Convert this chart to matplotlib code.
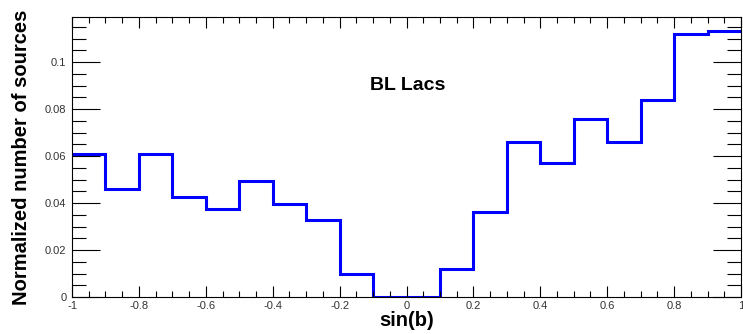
import numpy as np
from matplotlib import pyplot as plt
from matplotlib.ticker import MultipleLocator, FuncFormatter

# Histogram of sin(b), 20 bins from -1 to 1
bin_edges = np.round(np.arange(-1.0, 1.0001, 0.1), 2)
bl_lacs = [0.0610, 0.0461, 0.0610, 0.0424, 0.0376, 0.0494, 0.0396, 0.0328, 0.0099, 0.0,
           0.0, 0.0121, 0.0363, 0.0658, 0.0572, 0.0759, 0.0658, 0.0838, 0.1121, 0.1132]

plt.rcParams['font.family'] = ['Liberation Sans', 'DejaVu Sans']

fig = plt.figure(figsize=(7.43, 3.34), dpi=100)
ax = fig.add_axes([72 / 743, 1 - 297 / 334, 669 / 743, 280 / 334])

ax.stairs(bl_lacs, bin_edges, baseline=None, color='#0000ff', linewidth=2.2)

ax.set_xlim(-1, 1)
ax.set_ylim(0, 0.1192)

ax.xaxis.set_major_locator(MultipleLocator(0.2))
ax.xaxis.set_minor_locator(MultipleLocator(0.05))
ax.yaxis.set_major_locator(MultipleLocator(0.02))
ax.yaxis.set_minor_locator(MultipleLocator(0.005))
fmt = FuncFormatter(lambda v, p: '%g' % round(v, 3))
ax.xaxis.set_major_formatter(fmt)
ax.yaxis.set_major_formatter(fmt)

ax.tick_params(axis='both', which='both', direction='in', top=True, right=True,
               labelsize=8, colors='black', labelcolor='#333333', width=0.8)
ax.tick_params(axis='x', which='major', length=8, pad=3)
ax.tick_params(axis='x', which='minor', length=4)
ax.tick_params(axis='y', which='major', length=20, pad=4)
ax.tick_params(axis='y', which='minor', length=10)
for s in ax.spines.values():
    s.set_linewidth(0.8)

ax.set_xlabel('sin(b)', fontsize=14.5, fontweight='bold', labelpad=0)
ax.set_ylabel('Normalized number of sources', fontsize=14.5, fontweight='bold', labelpad=10)

ax.text(-0.11, 0.090, 'BL Lacs', fontsize=14, fontweight='bold', va='center', ha='left')

fig.savefig('out.png', dpi=100)
